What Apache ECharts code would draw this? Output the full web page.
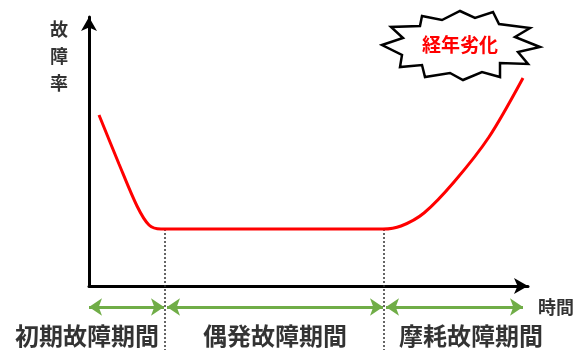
<!DOCTYPE html>
<html>
<head>
<meta charset="utf-8">
<script src="https://cdn.jsdelivr.net/npm/echarts@6/dist/echarts.min.js"></script>
<style>
html,body{margin:0;padding:0;background:#fff;}
#c{width:588px;height:350px;}
</style>
</head>
<body>
<div id="c"></div>
<script>
// Bathtub curve (time, failure rate) in arbitrary units
const curveData = [[10,171],[30,122],[48,80],[60,61],[72,57],[294,57],[312,60],[335,73],[365,104],[400,149],[434,208]];
const periodBounds = [0, 76, 295, 434];
const flatLevel = 57;
const periodNames = ['初期故障期間','偶発故障期間','摩耗故障期間'];
const periodLabelX = [-2, 186, 382];
const axisNames = {x:'時間', y:'故\n障\n率'};
const calloutText = '経年劣化';

const FONT = '"Noto Sans CJK JP", "Noto Sans CJK SC", sans-serif';
const arrowY = -21, bottomY = -64, labelY = -50;

const chart = echarts.init(document.getElementById('c'));

const arrows = [];
for (let i = 0; i < 3; i++) {
  const a = periodBounds[i] + (i === 0 ? 0 : 2);
  const b = periodBounds[i+1] - (i === 2 ? 0 : 1);
  arrows.push({coords: [[a, arrowY], [b, arrowY]]});
}

const series = [
  {
    type: 'line', data: curveData, smooth: 0.3,
    symbol: 'none', lineStyle: {color: '#ff0000', width: 3}, z: 5, clip: false
  },
  {
    type: 'line', data: [[periodBounds[1], flatLevel], [periodBounds[1], bottomY]],
    symbol: 'none', clip: false, lineStyle: {color: '#333', width: 1.5, type: [2, 2]}
  },
  {
    type: 'line', data: [[periodBounds[2], flatLevel], [periodBounds[2], bottomY]],
    symbol: 'none', clip: false, lineStyle: {color: '#333', width: 1.5, type: [2, 2]}
  },
  {
    type: 'lines', coordinateSystem: 'cartesian2d', clip: false,
    symbol: ['arrow', 'arrow'], symbolSize: [13, 13],
    lineStyle: {color: '#70ad47', width: 3, opacity: 1},
    data: arrows
  },
  {
    type: 'scatter', symbolSize: 0, clip: false, silent: true,
    data: periodNames.map((n, i) => ({value: [periodLabelX[i], labelY], name: n})),
    label: {show: true, position: 'inside', formatter: '{b}', color: '#000',
      fontFamily: FONT, fontSize: 24, fontWeight: 'bold'}
  },
  {
    type: 'scatter', symbolSize: 0, clip: false, silent: true,
    data: [{value: [467, arrowY], name: axisNames.x}],
    label: {show: true, position: 'inside', formatter: '{b}', color: '#000',
      fontFamily: FONT, fontSize: 18, fontWeight: 'bold'}
  },
  {
    type: 'scatter', symbolSize: 0, clip: false, silent: true,
    data: [{value: [-30, 230], name: axisNames.y}],
    label: {show: true, position: 'inside', formatter: '{b}', color: '#000',
      fontFamily: FONT, fontSize: 18, lineHeight: 27, fontWeight: 'bold'}
  }
];

const starPts = [[382,45],[403,38],[391,27],[420,26],[422,16],[442,20],[460,11],[475,18],[493,12],[499,24],[530,28],[515,37],[540,47],[518,52],[528,64],[500,63],[500,77],[482,72],[463,80],[450,73],[425,77],[422,65],[400,67],[402,55]];

chart.setOption({
  animation: false,
  backgroundColor: '#fff',
  grid: {left: 89, top: 17, width: 439, height: 269, containLabel: false},
  xAxis: {
    type: 'value', min: 0, max: 439,
    axisLine: {show: true, onZero: false, symbol: ['none', 'arrow'], symbolSize: [12, 14],
      lineStyle: {color: '#000', width: 3}},
    axisTick: {show: false}, axisLabel: {show: false}, splitLine: {show: false}
  },
  yAxis: {
    type: 'value', min: 0, max: 269,
    axisLine: {show: true, onZero: false, symbol: ['none', 'arrow'], symbolSize: [12, 14],
      lineStyle: {color: '#000', width: 3}},
    axisTick: {show: false}, axisLabel: {show: false}, splitLine: {show: false}
  },
  series: series,
  graphic: [
    {type: 'polygon', shape: {points: starPts}, style: {fill: '#fff', stroke: '#000', lineWidth: 2.5}, z: 10},
    {type: 'text', x: 460, y: 45, style: {text: calloutText, fill: '#ff0000', font: 'bold 19px ' + FONT,
      textAlign: 'center', textVerticalAlign: 'middle'}, z: 11}
  ]
});
</script>
</body>
</html>
